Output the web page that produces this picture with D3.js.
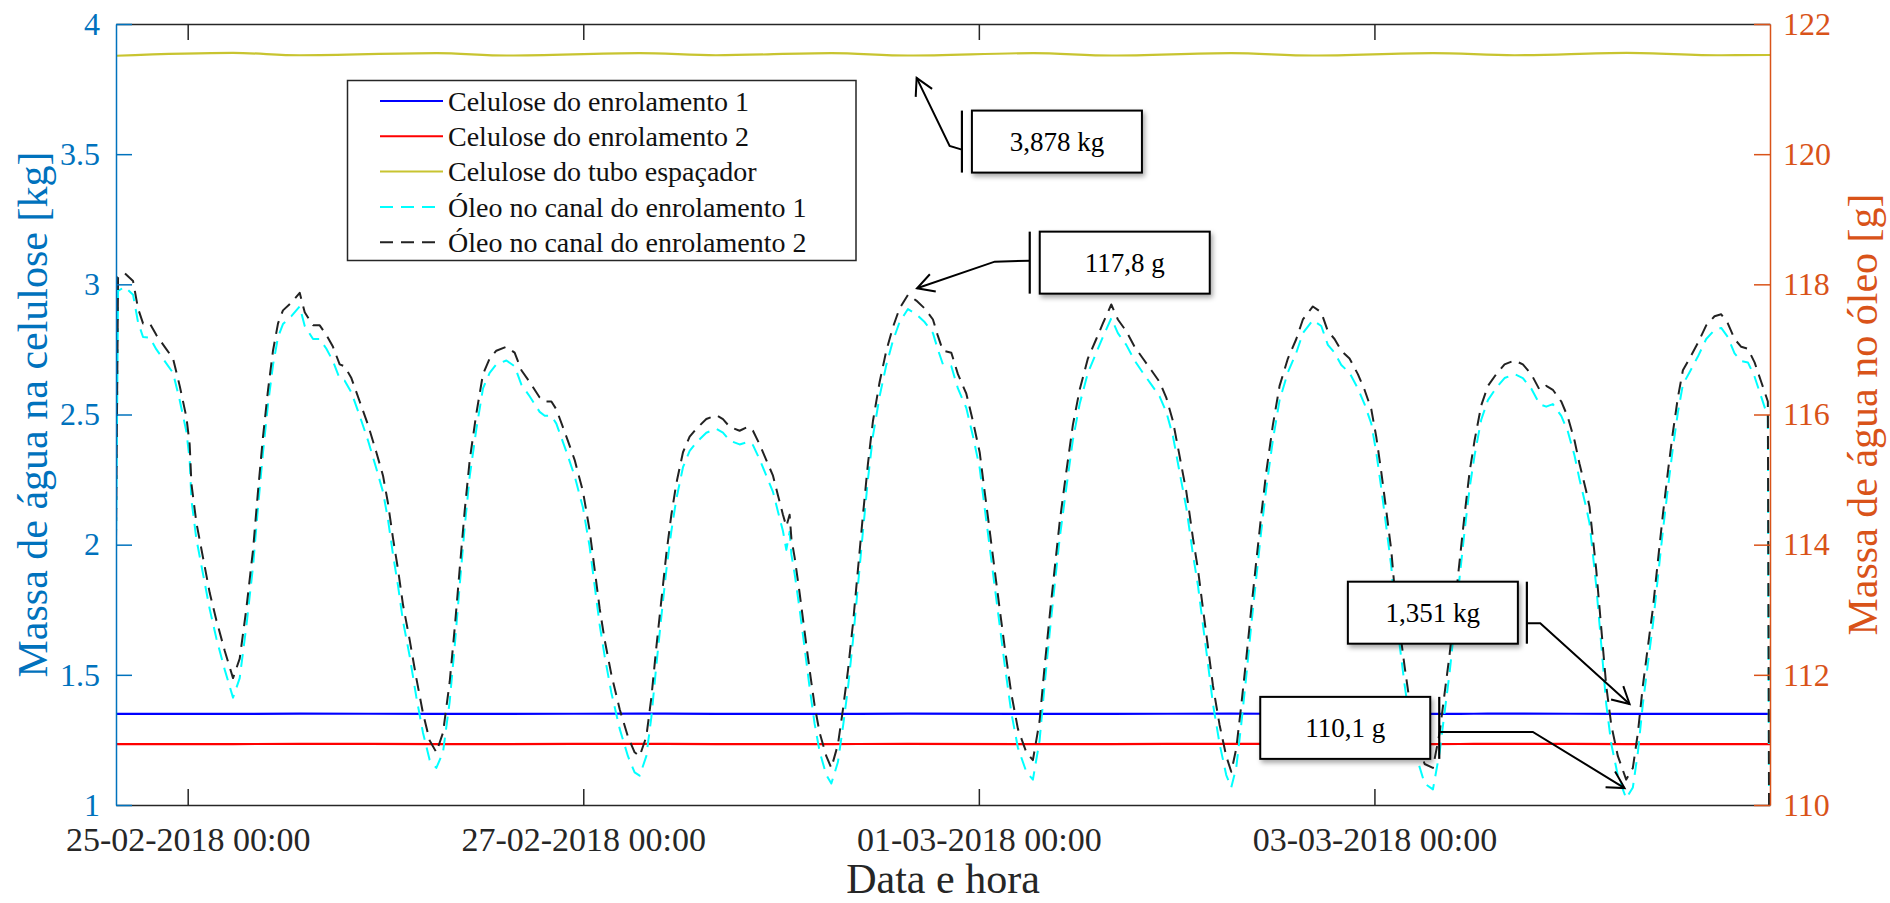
<!DOCTYPE html>
<html><head><meta charset="utf-8">
<script src="https://cdn.jsdelivr.net/npm/d3@7"></script>
<style>
html,body{margin:0;padding:0;background:#fff;}
svg, svg text{font-family:"Liberation Serif","Times New Roman",Tinos,"DejaVu Serif",serif !important;}
</style></head><body>
<svg id="chart" width="1890" height="903" font-family="Liberation Serif, Times New Roman, serif"></svg>
<script>
// ---------------- data ----------------
const referenceTime = "2018-02-25 00:00";   // hour 0
const domainStartHours = -8.7;
const domainEndHours = 192;
const xTickLabels = ["25-02-2018 00:00","27-02-2018 00:00","01-03-2018 00:00","03-03-2018 00:00"];
const leftTicks = [1,1.5,2,2.5,3,3.5,4];
const rightTicks = [110,112,114,116,118,120,122];
const seriesNames = ["Celulose do enrolamento 1","Celulose do enrolamento 2","Celulose do tubo espaçador","Óleo no canal do enrolamento 1","Óleo no canal do enrolamento 2"];
const xTitle = "Data e hora";
const leftTitle = "Massa de água na celulose [kg]";
const rightTitle = "Massa de água no óleo [g]";

// cellulose (kg, left axis)
const celHours   = [-8.7,5.5,13.6,30.2,38.7,54.8,64.1,78.1,87.4,102.6,112.1,126.6,136.5,151.1,161.0,174.6,186.1,192];
const celWinding1 = [1.350,1.350,1.351,1.350,1.350,1.351,1.350,1.350,1.351,1.350,1.350,1.351,1.350,1.350,1.351,1.350,1.350,1.350];
const celWinding2 = [1.234,1.234,1.235,1.234,1.234,1.235,1.234,1.234,1.235,1.234,1.234,1.235,1.234,1.234,1.235,1.234,1.234,1.234];
const celSpacer   = [3.878,3.889,3.880,3.888,3.879,3.888,3.880,3.888,3.879,3.888,3.879,3.888,3.879,3.888,3.880,3.889,3.880,3.881];

// oil (g, right axis)
const oilHours = [-8.7,-8.45,-7.64,-6.63,-6.03,-5.42,-4.61,-3.8,-2.79,-1.78,-0.97,-0.16,0.24,0.45,1.05,1.86,2.67,3.48,4.49,5.5,
6.31,7.12,7.93,8.53,9.14,9.75,10.35,10.96,11.56,12.58,13.59,14.2,15.21,16.02,16.83,17.63,18.44,19.05,19.86,20.87,
21.88,22.89,23.7,24.3,24.91,25.52,26.12,26.93,27.74,28.55,29.36,30.17,30.98,31.79,32.4,33.0,33.61,34.22,35.03,35.83,
36.64,37.45,38.67,39.67,40.49,41.49,42.71,43.32,44.13,44.73,45.95,46.96,47.96,48.77,49.38,49.99,50.59,51.4,52.42,53.42,
54.23,54.84,55.65,56.26,56.87,57.47,58.08,58.69,59.29,60.1,60.91,61.72,62.93,64.15,64.95,65.76,66.97,67.98,68.59,69.4,
70.21,71.02,71.62,72.23,72.64,73.04,73.25,73.65,74.25,74.86,75.47,76.07,76.68,77.49,78.1,78.9,79.51,80.12,80.72,81.33,
81.94,82.54,83.15,83.96,84.77,85.57,86.38,87.4,88.41,89.42,90.43,91.0,91.64,92.66,93.46,94.48,95.28,96.1,96.7,97.31,
97.91,98.52,99.13,99.94,100.74,101.76,102.56,103.37,103.98,104.59,105.19,105.8,106.61,107.41,108.23,109.23,110.25,111.05,112.07,112.87,
113.89,114.9,115.91,116.93,117.93,118.74,119.55,120.36,121.17,121.58,121.98,122.59,123.19,123.8,124.41,125.21,126.02,126.63,127.24,127.84,
128.45,129.06,129.66,130.27,130.88,131.68,132.49,133.5,134.52,135.32,136.53,137.55,138.35,139.16,139.98,140.98,141.99,142.8,143.62,144.22,
144.83,145.44,146.04,146.45,147.05,147.66,148.27,149.08,150.09,151.1,151.91,152.51,153.12,153.73,154.33,154.94,155.55,156.15,156.96,157.77,
158.78,159.79,161.01,162.01,163.03,164.04,164.85,165.65,166.67,167.47,168.28,168.89,169.7,170.1,170.51,170.91,171.32,171.72,172.13,172.74,
173.54,174.55,175.36,175.97,176.57,177.18,177.79,178.39,179.0,179.61,180.21,180.82,181.43,182.24,183.25,184.26,185.27,186.08,186.88,187.7,
188.51,189.32,190.13,190.94,191.74,192];

const oilWinding2 = [114.04,118.11,118.17,118.05,117.63,117.40,117.40,117.22,117.04,116.86,116.44,115.96,115.54,114.94,114.34,113.80,113.26,112.84,112.37,111.95,
112.25,113.02,113.92,114.82,115.66,116.38,116.98,117.40,117.60,117.72,117.87,117.57,117.37,117.37,117.22,117.04,116.77,116.74,116.56,116.20,
115.84,115.42,115.06,114.64,114.10,113.62,113.08,112.54,111.95,111.41,110.99,110.81,111.11,111.89,112.72,113.62,114.52,115.30,116.02,116.62,
116.86,116.98,117.04,116.95,116.68,116.50,116.26,116.20,116.20,116.08,115.66,115.30,114.82,114.22,113.62,113.02,112.54,112.01,111.47,111.05,
110.81,110.75,111.05,111.65,112.43,113.14,113.86,114.46,114.94,115.42,115.66,115.78,115.93,115.99,115.93,115.81,115.75,115.81,115.75,115.54,
115.30,115.06,114.76,114.46,114.28,114.46,114.10,113.80,113.26,112.66,112.07,111.53,111.11,110.75,110.57,110.93,111.47,112.07,112.78,113.62,
114.46,115.24,115.90,116.50,116.98,117.34,117.63,117.84,117.75,117.63,117.46,117.22,116.98,116.95,116.62,116.32,115.90,115.42,114.82,114.22,
113.62,113.02,112.43,111.71,111.17,110.81,110.69,111.29,112.13,112.90,113.62,114.34,115.12,115.84,116.38,116.86,117.16,117.40,117.69,117.46,
117.28,117.04,116.86,116.68,116.50,116.26,115.90,115.36,114.82,114.46,114.10,113.62,113.02,112.43,111.83,111.23,110.75,110.51,110.87,111.53,
112.25,113.02,113.74,114.46,115.12,115.84,116.44,116.86,117.16,117.46,117.66,117.57,117.28,117.16,116.98,116.86,116.62,116.38,116.08,115.66,
115.12,114.52,113.92,113.32,112.72,112.13,111.59,111.05,110.63,110.57,111.11,111.71,112.31,113.02,113.74,114.46,115.12,115.60,116.14,116.44,
116.62,116.77,116.83,116.77,116.62,116.38,116.44,116.38,116.20,115.96,115.60,115.24,114.82,114.58,114.10,113.62,113.02,112.43,111.83,111.23,
110.75,110.39,110.57,111.11,111.83,112.43,113.02,113.74,114.46,115.12,115.72,116.26,116.68,116.86,117.10,117.37,117.51,117.54,117.40,117.16,
117.04,117.01,116.80,116.50,116.20,105.0];

const oilWinding1 = [113.90,117.90,117.96,117.84,117.42,117.19,117.18,117.00,116.82,116.64,116.22,115.74,115.30,114.69,114.09,113.55,113.01,112.56,112.08,111.65,
111.95,112.75,113.67,114.57,115.42,116.16,116.76,117.19,117.39,117.51,117.66,117.36,117.16,117.16,117.01,116.82,116.55,116.52,116.34,115.98,
115.60,115.17,114.81,114.39,113.85,113.37,112.83,112.29,111.66,111.11,110.69,110.57,110.81,111.59,112.44,113.37,114.27,115.05,115.78,116.40,
116.64,116.77,116.83,116.74,116.46,116.28,116.04,115.98,115.98,115.86,115.43,115.05,114.57,113.97,113.37,112.77,112.29,111.73,111.17,110.75,
110.50,110.45,110.75,111.35,112.15,112.89,113.61,114.21,114.70,115.19,115.44,115.57,115.72,115.78,115.72,115.60,115.54,115.58,115.53,115.31,
115.06,114.81,114.51,114.21,113.92,114.20,113.85,113.55,113.01,112.41,111.80,111.25,110.82,110.46,110.33,110.66,111.20,111.80,112.52,113.37,
114.21,115.00,115.67,116.28,116.76,117.13,117.42,117.62,117.54,117.42,117.25,117.01,116.77,116.74,116.40,116.10,115.67,115.18,114.57,113.97,
113.37,112.77,112.16,111.42,110.88,110.51,110.39,110.99,111.85,112.64,113.37,114.09,114.87,115.61,116.16,116.64,116.95,117.19,117.48,117.25,
117.07,116.83,116.64,116.46,116.28,116.04,115.67,115.11,114.57,114.21,113.85,113.37,112.77,112.17,111.55,110.94,110.46,110.27,110.58,111.24,
111.98,112.77,113.49,114.21,114.87,115.61,116.22,116.65,116.95,117.25,117.45,117.36,117.07,116.95,116.76,116.64,116.40,116.16,115.86,115.42,
114.87,114.27,113.67,113.07,112.47,111.85,111.30,110.75,110.33,110.24,110.81,111.42,112.03,112.77,113.49,114.21,114.87,115.37,115.92,116.22,
116.41,116.56,116.62,116.56,116.40,116.16,116.12,116.16,115.98,115.74,115.37,115.00,114.57,114.33,113.85,113.37,112.77,112.17,111.55,110.94,
110.45,110.10,110.27,110.81,111.55,112.17,112.77,113.49,114.21,114.87,115.48,116.03,116.46,116.65,116.89,117.16,117.30,117.33,117.19,116.94,
116.82,116.80,116.58,116.27,115.96,105.0];

// annotations: label, tip (hours, value, axis)
const annoLabels = ["3,878 kg","117,8 g","1,351 kg","110,1 g"];
const annoTipHours = [88.45, 88.5, 174.96, 174.35];
const annoTipValues = [3.793, 117.94, 1.388, 110.26];
const annoTipAxis = ["left","right","left","right"];

// ---------------- layout / style ----------------
const W = 1890, H = 903;
const FF = "Liberation Serif, Times New Roman, Tinos, DejaVu Serif, serif";
const plot = {left:116, right:1770, top:24, bottom:805};
const C = {left:"#0072BD", right:"#D95319", axis:"#262626"};
const FONT_XTICK = 34, FONT_TICK = 32, FONT_TITLE = 42, FONT_LEG = 28, FONT_ANNO = 27;

const parse = d3.utcParse("%Y-%m-%d %H:%M");
const parseTick = d3.utcParse("%d-%m-%Y %H:%M");
const t0 = parse(referenceTime);
const hToDate = h => new Date(t0.getTime() + h*3600e3);

const x = d3.scaleUtc().domain([hToDate(domainStartHours), hToDate(domainEndHours)]).range([plot.left, plot.right]);
const yL = d3.scaleLinear().domain([1,4]).range([plot.bottom, plot.top]);
const yR = d3.scaleLinear().domain([110,122]).range([plot.bottom, plot.top]);

const svg = d3.select("#chart");
const defs = svg.append("defs");
defs.append("clipPath").attr("id","clip").append("rect")
  .attr("x",plot.left).attr("y",plot.top).attr("width",plot.right-plot.left).attr("height",plot.bottom-plot.top);
const sh = defs.append("filter").attr("id","shadow").attr("x","-20%").attr("y","-20%").attr("width","150%").attr("height","160%");
sh.append("feDropShadow").attr("dx",2).attr("dy",3).attr("stdDeviation",2.5).attr("flood-color","#000").attr("flood-opacity",0.35);

svg.append("rect").attr("width",W).attr("height",H).attr("fill","#fff");

// ---------------- lines ----------------
const gLines = svg.append("g").attr("clip-path","url(#clip)");
const celData = arr => celHours.map((h,i)=>({t:hToDate(h), v:arr[i]}));
const oilData = arr => oilHours.map((h,i)=>({t:hToDate(h), v:arr[i]}));
const lineL = d3.line().x(d=>x(d.t)).y(d=>yL(d.v)).curve(d3.curveMonotoneX);
const lineR = d3.line().x(d=>x(d.t)).y(d=>yR(d.v));

const series = [
  {data:celData(celWinding1), line:lineL, color:"#0000FF", dash:null, w:2.2},
  {data:celData(celWinding2), line:lineL, color:"#FF0000", dash:null, w:2.2},
  {data:celData(celSpacer),   line:lineL, color:"#C8C430", dash:null, w:2.2},
  {data:oilData(oilWinding1), line:lineR, color:"#00FFFF", dash:"13,8", w:2},
  {data:oilData(oilWinding2), line:lineR, color:"#222222", dash:"13,8", w:2}
];
series.forEach(s=>{
  gLines.append("path").attr("d", s.line(s.data)).attr("fill","none")
    .attr("stroke",s.color).attr("stroke-width",s.w).attr("stroke-dasharray",s.dash)
    .attr("stroke-linejoin","round");
});

// ---------------- axes ----------------
const xTicks = xTickLabels.map(parseTick);
const fmtX = d3.utcFormat("%d-%m-%Y %H:%M");

const gB = svg.append("g").attr("transform",`translate(0,${plot.bottom})`)
  .call(d3.axisBottom(x).tickValues(xTicks).tickFormat(fmtX).tickSize(-16).tickSizeOuter(0).tickPadding(22));
const gT = svg.append("g").attr("transform",`translate(0,${plot.top})`)
  .call(d3.axisTop(x).tickValues(xTicks).tickFormat("").tickSize(-16).tickSizeOuter(0));
[gB,gT].forEach(g=>{
  g.attr("font-family",FF);
  g.select(".domain").attr("stroke",C.axis).attr("stroke-width",1.5);
  g.selectAll(".tick line").attr("stroke",C.axis).attr("stroke-width",1.5);
  g.selectAll("text").attr("fill",C.axis).attr("font-size",FONT_XTICK).attr("font-family",FF);
});

const gL = svg.append("g").attr("transform",`translate(${plot.left},0)`)
  .call(d3.axisLeft(yL).tickValues(leftTicks).tickFormat(d3.format("")).tickSize(-16).tickSizeOuter(0).tickPadding(16));
const gR = svg.append("g").attr("transform",`translate(${plot.right},0)`)
  .call(d3.axisRight(yR).tickValues(rightTicks).tickFormat(d3.format("")).tickSize(-16).tickSizeOuter(0).tickPadding(13));
[[gL,C.left],[gR,C.right]].forEach(([g,c])=>{
  g.attr("font-family",FF);
  g.select(".domain").attr("stroke",c).attr("stroke-width",1.5);
  g.selectAll(".tick line").attr("stroke",c).attr("stroke-width",1.5);
  g.selectAll("text").attr("fill",c).attr("font-size",FONT_TICK).attr("font-family",FF);
});

// titles
svg.append("text").attr("x",(plot.left+plot.right)/2).attr("y",893).attr("text-anchor","middle")
  .attr("font-family",FF).attr("font-size",FONT_TITLE).attr("fill",C.axis).text(xTitle);
svg.append("text").attr("transform",`translate(47,${(plot.top+plot.bottom)/2}) rotate(-90)`).attr("text-anchor","middle")
  .attr("font-family",FF).attr("font-size",FONT_TITLE).attr("fill",C.left).text(leftTitle);
svg.append("text").attr("transform",`translate(1877,${(plot.top+plot.bottom)/2}) rotate(-90)`).attr("text-anchor","middle")
  .attr("font-family",FF).attr("font-size",FONT_TITLE).attr("fill",C.right).text(rightTitle);

// ---------------- legend ----------------
const leg = svg.append("g");
leg.append("rect").attr("x",347.5).attr("y",80.5).attr("width",508.5).attr("height",180)
  .attr("fill","#fff").attr("stroke",C.axis).attr("stroke-width",1.5);
seriesNames.forEach((n,i)=>{
  const yy = 101 + i*35.3;
  leg.append("line").attr("x1",380).attr("x2",443).attr("y1",yy).attr("y2",yy)
    .attr("stroke",series[i].color).attr("stroke-width",2).attr("stroke-dasharray",series[i].dash);
  leg.append("text").attr("x",448).attr("y",yy).attr("dy","0.35em").attr("font-family",FF)
    .attr("font-size",FONT_LEG).attr("fill","#111").text(n);
});

// ---------------- annotations ----------------
// box offset from tip (px), elbow offset from tip, bar side
const annoLayout = [
  {bx:55.3, by:32.7, ex:33, ey:68, side:"left", sy:39},
  {bx:122.7, by:-56.6, ex:77.7, ey:-26.6, side:"left", sy:29},
  {bx:-281.7, by:-122.3, ex:-89.3, ey:-80.7, side:"right", sy:41.5},
  {bx:-364.3, by:-91.2, ex:-91.7, ey:-56.2, side:"right", sy:35}
];
const BW = 170, BH = 62;
const gA = svg.append("g");
annoLabels.forEach((lab,i)=>{
  const tx = x(hToDate(annoTipHours[i]));
  const ty = (annoTipAxis[i]==="left"? yL : yR)(annoTipValues[i]);
  const L = annoLayout[i];
  const bx = tx + L.bx, by = ty + L.by;
  const barX = L.side==="left" ? bx - 10 : bx + BW + 9;
  const start = [barX, by + L.sy];
  const elbow = [tx + L.ex, ty + L.ey];
  gA.append("path").attr("d",`M${start[0]},${start[1]}L${elbow[0]},${elbow[1]}L${tx},${ty}`)
    .attr("fill","none").attr("stroke","#000").attr("stroke-width",2);
  const ang = Math.atan2(ty-elbow[1], tx-elbow[0]);
  const len = 19, half = 0.5;
  const p1 = [tx - len*Math.cos(ang-half), ty - len*Math.sin(ang-half)];
  const p2 = [tx - len*Math.cos(ang+half), ty - len*Math.sin(ang+half)];
  gA.append("path").attr("d",`M${p1[0]},${p1[1]}L${tx},${ty}L${p2[0]},${p2[1]}`)
    .attr("fill","none").attr("stroke","#000").attr("stroke-width",2);
  gA.append("line").attr("x1",barX).attr("x2",barX).attr("y1",by).attr("y2",by+BH)
    .attr("stroke","#000").attr("stroke-width",2.2);
  gA.append("rect").attr("x",bx).attr("y",by).attr("width",BW).attr("height",BH)
    .attr("fill","#fff").attr("stroke","#000").attr("stroke-width",2).attr("filter","url(#shadow)");
  gA.append("text").attr("x",bx+BW/2).attr("y",by+BH/2).attr("dy","0.35em").attr("text-anchor","middle")
    .attr("font-family",FF).attr("font-size",FONT_ANNO).attr("fill","#000").text(lab);
});
</script>
</body></html>
